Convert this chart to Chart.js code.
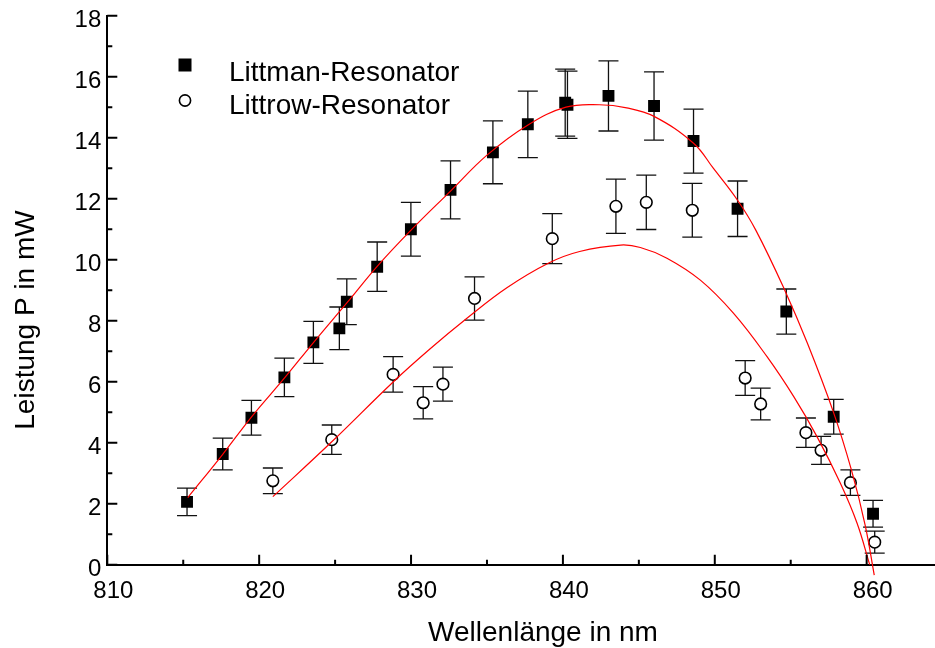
<!DOCTYPE html>
<html>
<head>
<meta charset="utf-8">
<script src="https://cdn.jsdelivr.net/npm/chart.js@4.4.1/dist/chart.umd.min.js"></script>
<style>
  html, body { margin: 0; padding: 0; background: #fff; }
  canvas { display: block; }
</style>
</head>
<body>
<canvas id="chart" width="935" height="648"></canvas>
<script>
// Littman-Resonator (gefüllte Quadrate)
const littmanX = [815.25, 817.6, 819.49, 821.66, 823.57, 825.28, 825.77, 827.77, 829.99, 832.6, 835.39,
  837.69, 840.15, 840.3, 843.0, 846.0, 848.6, 851.5, 854.71, 857.83, 860.42];
const littmanY = [2.06, 3.63, 4.82, 6.14, 7.29, 7.75, 8.62, 9.77, 11.0, 12.29, 13.52,
  14.44, 15.15, 15.08, 15.37, 15.04, 13.89, 11.67, 8.30, 4.85, 1.67];
const littmanErr = [0.45, 0.52, 0.57, 0.63, 0.69, 0.70, 0.75, 0.81, 0.88, 0.95, 1.03,
  1.09, 1.1, 1.1, 1.15, 1.12, 1.05, 0.91, 0.74, 0.57, 0.44];

// Littrow-Resonator (offene Kreise)
const littrowX = [820.9, 824.78, 828.82, 830.8, 832.1, 834.18, 839.3, 843.49, 845.49, 848.52,
  852.0, 853.02, 856.0, 857.0, 858.93, 860.53];
const littrowY = [2.75, 4.10, 6.24, 5.31, 5.92, 8.73, 10.69, 11.75, 11.88, 11.62,
  6.12, 5.27, 4.33, 3.75, 2.69, 0.74];
const littrowErr = [0.42, 0.48, 0.58, 0.53, 0.56, 0.71, 0.82, 0.89, 0.89, 0.88,
  0.57, 0.52, 0.48, 0.46, 0.42, 0.36];

const littmanFitX = [815.3, 817.6, 819.5, 821.7, 823.6, 825.8, 827.8, 830.0, 832.6, 835.0, 837.7, 840.2,
  842.4, 844.2, 846.0, 848.6, 849.9, 851.5, 852.7, 854.6, 856.1, 857.8, 859.0, 859.9, 860.5];
const littmanFitY = [2.2, 3.62, 4.85, 6.14, 7.3, 8.6, 9.8, 10.97, 12.25, 13.43, 14.42, 15.0,
  15.08, 14.98, 14.7, 13.82, 13.0, 11.95, 10.97, 9.01, 7.26, 5.02, 3.1, 1.3, -0.34];
const littrowFitX = [820.9, 824.78, 828.84, 831.26, 833.68, 836.31, 839.1, 841.1, 843.8, 845.1, 846.85,
  849.05, 851.24, 853.44, 855.2, 856.73, 858.27, 859.37, 860.2];
const littrowFitY = [2.23, 4.03, 6.0, 7.08, 8.08, 9.08, 9.9, 10.27, 10.48, 10.4, 10.05,
  9.33, 8.24, 6.82, 5.51, 4.20, 2.67, 1.36, 0.0];

const xTicks = [810, 820, 830, 840, 850, 860];
const xMinorTicks = [815, 825, 835, 845, 855];
const yTicks = [0, 2, 4, 6, 8, 10, 12, 14, 16, 18];
const yMinorTicks = [1, 3, 5, 7, 9, 11, 13, 15, 17];

const seriesNames = ['Littman-Resonator', 'Littrow-Resonator'];
const xTitle = 'Wellenlänge in nm';
const yTitle = 'Leistung P in mW';

const FONT = "'Liberation Sans', Arial, Helvetica, sans-serif";

function toPoints(xs, ys) {
  return xs.map((x, i) => ({ x: x, y: ys[i] }));
}

// Fehlerbalken unter den Markern
const errorBars = {
  id: 'errorBars',
  beforeDatasetsDraw(chart) {
    const ctx = chart.ctx;
    const x = chart.scales.x, y = chart.scales.y;
    ctx.save();
    ctx.strokeStyle = '#111';
    ctx.lineWidth = 1.3;
    chart.data.datasets.forEach(ds => {
      if (!ds.errors) return;
      ds.data.forEach((p, i) => {
        const px = x.getPixelForValue(p.x);
        const top = y.getPixelForValue(p.y + ds.errors[i]);
        const bot = y.getPixelForValue(p.y - ds.errors[i]);
        ctx.beginPath();
        ctx.moveTo(px, top); ctx.lineTo(px, bot);
        ctx.moveTo(px - 10, top); ctx.lineTo(px + 10, top);
        ctx.moveTo(px - 10, bot); ctx.lineTo(px + 10, bot);
        ctx.stroke();
      });
    });
    ctx.restore();
  }
};

// Ticks nach innen, Achsentitel, Legende
const decorations = {
  id: 'decorations',
  afterDraw(chart) {
    const ctx = chart.ctx;
    const x = chart.scales.x, y = chart.scales.y;
    const area = chart.chartArea;
    ctx.save();
    ctx.strokeStyle = '#000';
    ctx.lineWidth = 2;
    ctx.beginPath();
    xTicks.forEach(v => {
      const px = x.getPixelForValue(v);
      ctx.moveTo(px, area.bottom); ctx.lineTo(px, area.bottom - 10);
    });
    xMinorTicks.forEach(v => {
      const px = x.getPixelForValue(v);
      ctx.moveTo(px, area.bottom); ctx.lineTo(px, area.bottom - 5);
    });
    yTicks.forEach(v => {
      const py = y.getPixelForValue(v);
      ctx.moveTo(area.left, py); ctx.lineTo(area.left + 10, py);
    });
    yMinorTicks.forEach(v => {
      const py = y.getPixelForValue(v);
      ctx.moveTo(area.left, py); ctx.lineTo(area.left + 5, py);
    });
    ctx.stroke();

    ctx.fillStyle = '#000';
    ctx.font = '28px ' + FONT;
    ctx.textBaseline = 'alphabetic';
    ctx.textAlign = 'center';
    ctx.fillText(xTitle, 543, 641);
    ctx.save();
    ctx.translate(33.5, 320);
    ctx.rotate(-Math.PI / 2);
    ctx.fillText(yTitle, 0, 0);
    ctx.restore();

    // Legende
    ctx.textAlign = 'left';
    ctx.fillRect(178.5, 58.5, 13, 13);
    ctx.fillText(seriesNames[0], 229, 81);
    ctx.beginPath();
    ctx.arc(185, 100.5, 5.6, 0, Math.PI * 2);
    ctx.fillStyle = '#fff';
    ctx.fill();
    ctx.lineWidth = 1.6;
    ctx.stroke();
    ctx.fillStyle = '#000';
    ctx.fillText(seriesNames[1], 229, 114);
    ctx.restore();
  }
};

new Chart(document.getElementById('chart'), {
  type: 'scatter',
  data: {
    datasets: [
      {
        label: seriesNames[0] + ' Fit',
        data: toPoints(littmanFitX, littmanFitY),
        showLine: true,
        borderColor: 'rgb(255,0,0)',
        borderWidth: 1.2,
        pointRadius: 0,
        tension: 0.4,
        clip: false
      },
      {
        label: seriesNames[1] + ' Fit',
        data: toPoints(littrowFitX, littrowFitY),
        showLine: true,
        borderColor: 'rgb(255,0,0)',
        borderWidth: 1.2,
        pointRadius: 0,
        tension: 0.4,
        clip: false
      },
      {
        label: seriesNames[0],
        data: toPoints(littmanX, littmanY),
        errors: littmanErr,
        pointStyle: 'rect',
        pointRadius: 8.4,
        backgroundColor: '#000',
        borderColor: '#000',
        borderWidth: 0
      },
      {
        label: seriesNames[1],
        data: toPoints(littrowX, littrowY),
        errors: littrowErr,
        pointStyle: 'circle',
        pointRadius: 5.8,
        backgroundColor: '#fff',
        borderColor: '#000',
        borderWidth: 1.6
      }
    ]
  },
  options: {
    responsive: false,
    devicePixelRatio: 1,
    animation: false,
    events: [],
    layout: { autoPadding: false, padding: { top: 15.7, right: 0, bottom: 0, left: 0 } },
    plugins: {
      legend: { display: false },
      tooltip: { enabled: false }
    },
    scales: {
      x: {
        type: 'linear',
        min: 810,
        max: 864.5,
        afterBuildTicks: s => { s.ticks = xTicks.map(v => ({ value: v })); },
        afterFit: s => { s.height = 83.3; s.paddingLeft = 0; s.paddingRight = 0; },
        grid: { display: false, drawTicks: false },
        border: { display: true, color: '#000', width: 2 },
        ticks: {
          color: '#000',
          font: { family: FONT, size: 24 },
          padding: 12,
          labelOffset: 6,
          maxRotation: 0,
          autoSkip: false
        }
      },
      y: {
        type: 'linear',
        min: 0,
        max: 18,
        afterBuildTicks: s => { s.ticks = yTicks.map(v => ({ value: v })); },
        afterFit: s => { s.width = 107.3; s.paddingTop = 0; s.paddingBottom = 0; },
        grid: { display: false, drawTicks: false },
        border: { display: true, color: '#000', width: 2 },
        ticks: {
          color: '#000',
          font: { family: FONT, size: 24 },
          padding: 6,
          labelOffset: 5,
          autoSkip: false
        }
      }
    }
  },
  plugins: [errorBars, decorations]
});
</script>
</body>
</html>
